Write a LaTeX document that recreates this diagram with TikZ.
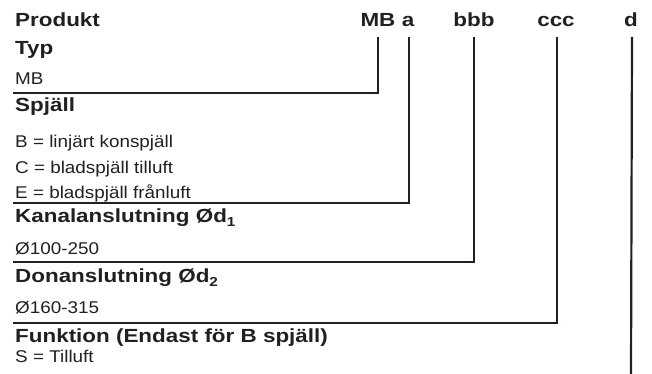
\documentclass[tikz,border=0pt]{standalone}
\usepackage{fontspec}
\setmainfont{Liberation Sans}[FakeStretch=1.11,BoldFeatures={FakeStretch=1.18}]
\usepackage{tikz}
\definecolor{ink}{HTML}{231F20}

\begin{document}
\begin{tikzpicture}
  [x=1pt,y=1pt,every node/.style={anchor=base west,inner sep=0pt,text=ink}, % all texts sit on their baseline
   head/.style={font=\fontsize{19}{22}\selectfont\bfseries},
   item/.style={font=\fontsize{17}{20}\selectfont},
   code/.style={anchor=base,font=\fontsize{19}{22}\selectfont\bfseries},
   rule/.style={draw=ink,line width=2.2pt}]
  \useasboundingbox (0,0) rectangle (652,-374);

  \node[head] (prod) at (15,-27) {Produkt};
  \node[code] (cMB) at (378,-27) {MB};
  \node[code] (ca) at (408,-27) {a};
  \node[code] (cbbb) at (474,-27) {bbb};
  \node[code] (cccc) at (556,-27) {ccc};
  \node[code] (cd) at (631,-27) {d};

  \node[head] (typ) at (15,-55) {Typ};
  \node[item] (t1) at (15,-85) {MB};

  \node[head] (spj) at (15,-112) {Spjäll};
  \node[item] (s1) at (15,-147) {B = linjärt konspjäll};
  \node[item] (s2) at (15,-173) {C = bladspjäll tilluft};
  \node[item] (s3) at (15,-198) {E = bladspjäll frånluft};

  \node[head] (kan) at (15,-222) {Kanalanslutning Ød\raisebox{-4pt}{\fontsize{13}{15}\selectfont 1}};
  \node[item] (k1) at (15,-254) {Ø100-250};

  \node[head] (don) at (15,-282) {Donanslutning Ød\raisebox{-4pt}{\fontsize{13}{15}\selectfont 2}};
  \node[item] (d1) at (15,-313) {Ø160-315};

  \node[head] (fun) at (15,-342) {Funktion (Endast för B spjäll)};
  \node[item] (f1) at (15,-362) {S = Tilluft};

  \coordinate (eMB) at (13,-93);
  \coordinate (ea) at (13,-203);
  \coordinate (ebbb) at (13,-262);
  \coordinate (eccc) at (13,-323);
  \coordinate (ed) at (632,-374);

  \draw[rule] ([yshift=-10]cMB.base) |- (eMB);
  \draw[rule] ([xshift=1,yshift=-10]ca.base) |- (ea);
  \draw[rule] ([yshift=-10]cbbb.base) |- (ebbb);
  \draw[rule] ([xshift=1,yshift=-10]cccc.base) |- (eccc);
  \draw[rule] ([xshift=1,yshift=-10]cd.base) -- (cd.base |- ed);

\end{tikzpicture}
\end{document}
